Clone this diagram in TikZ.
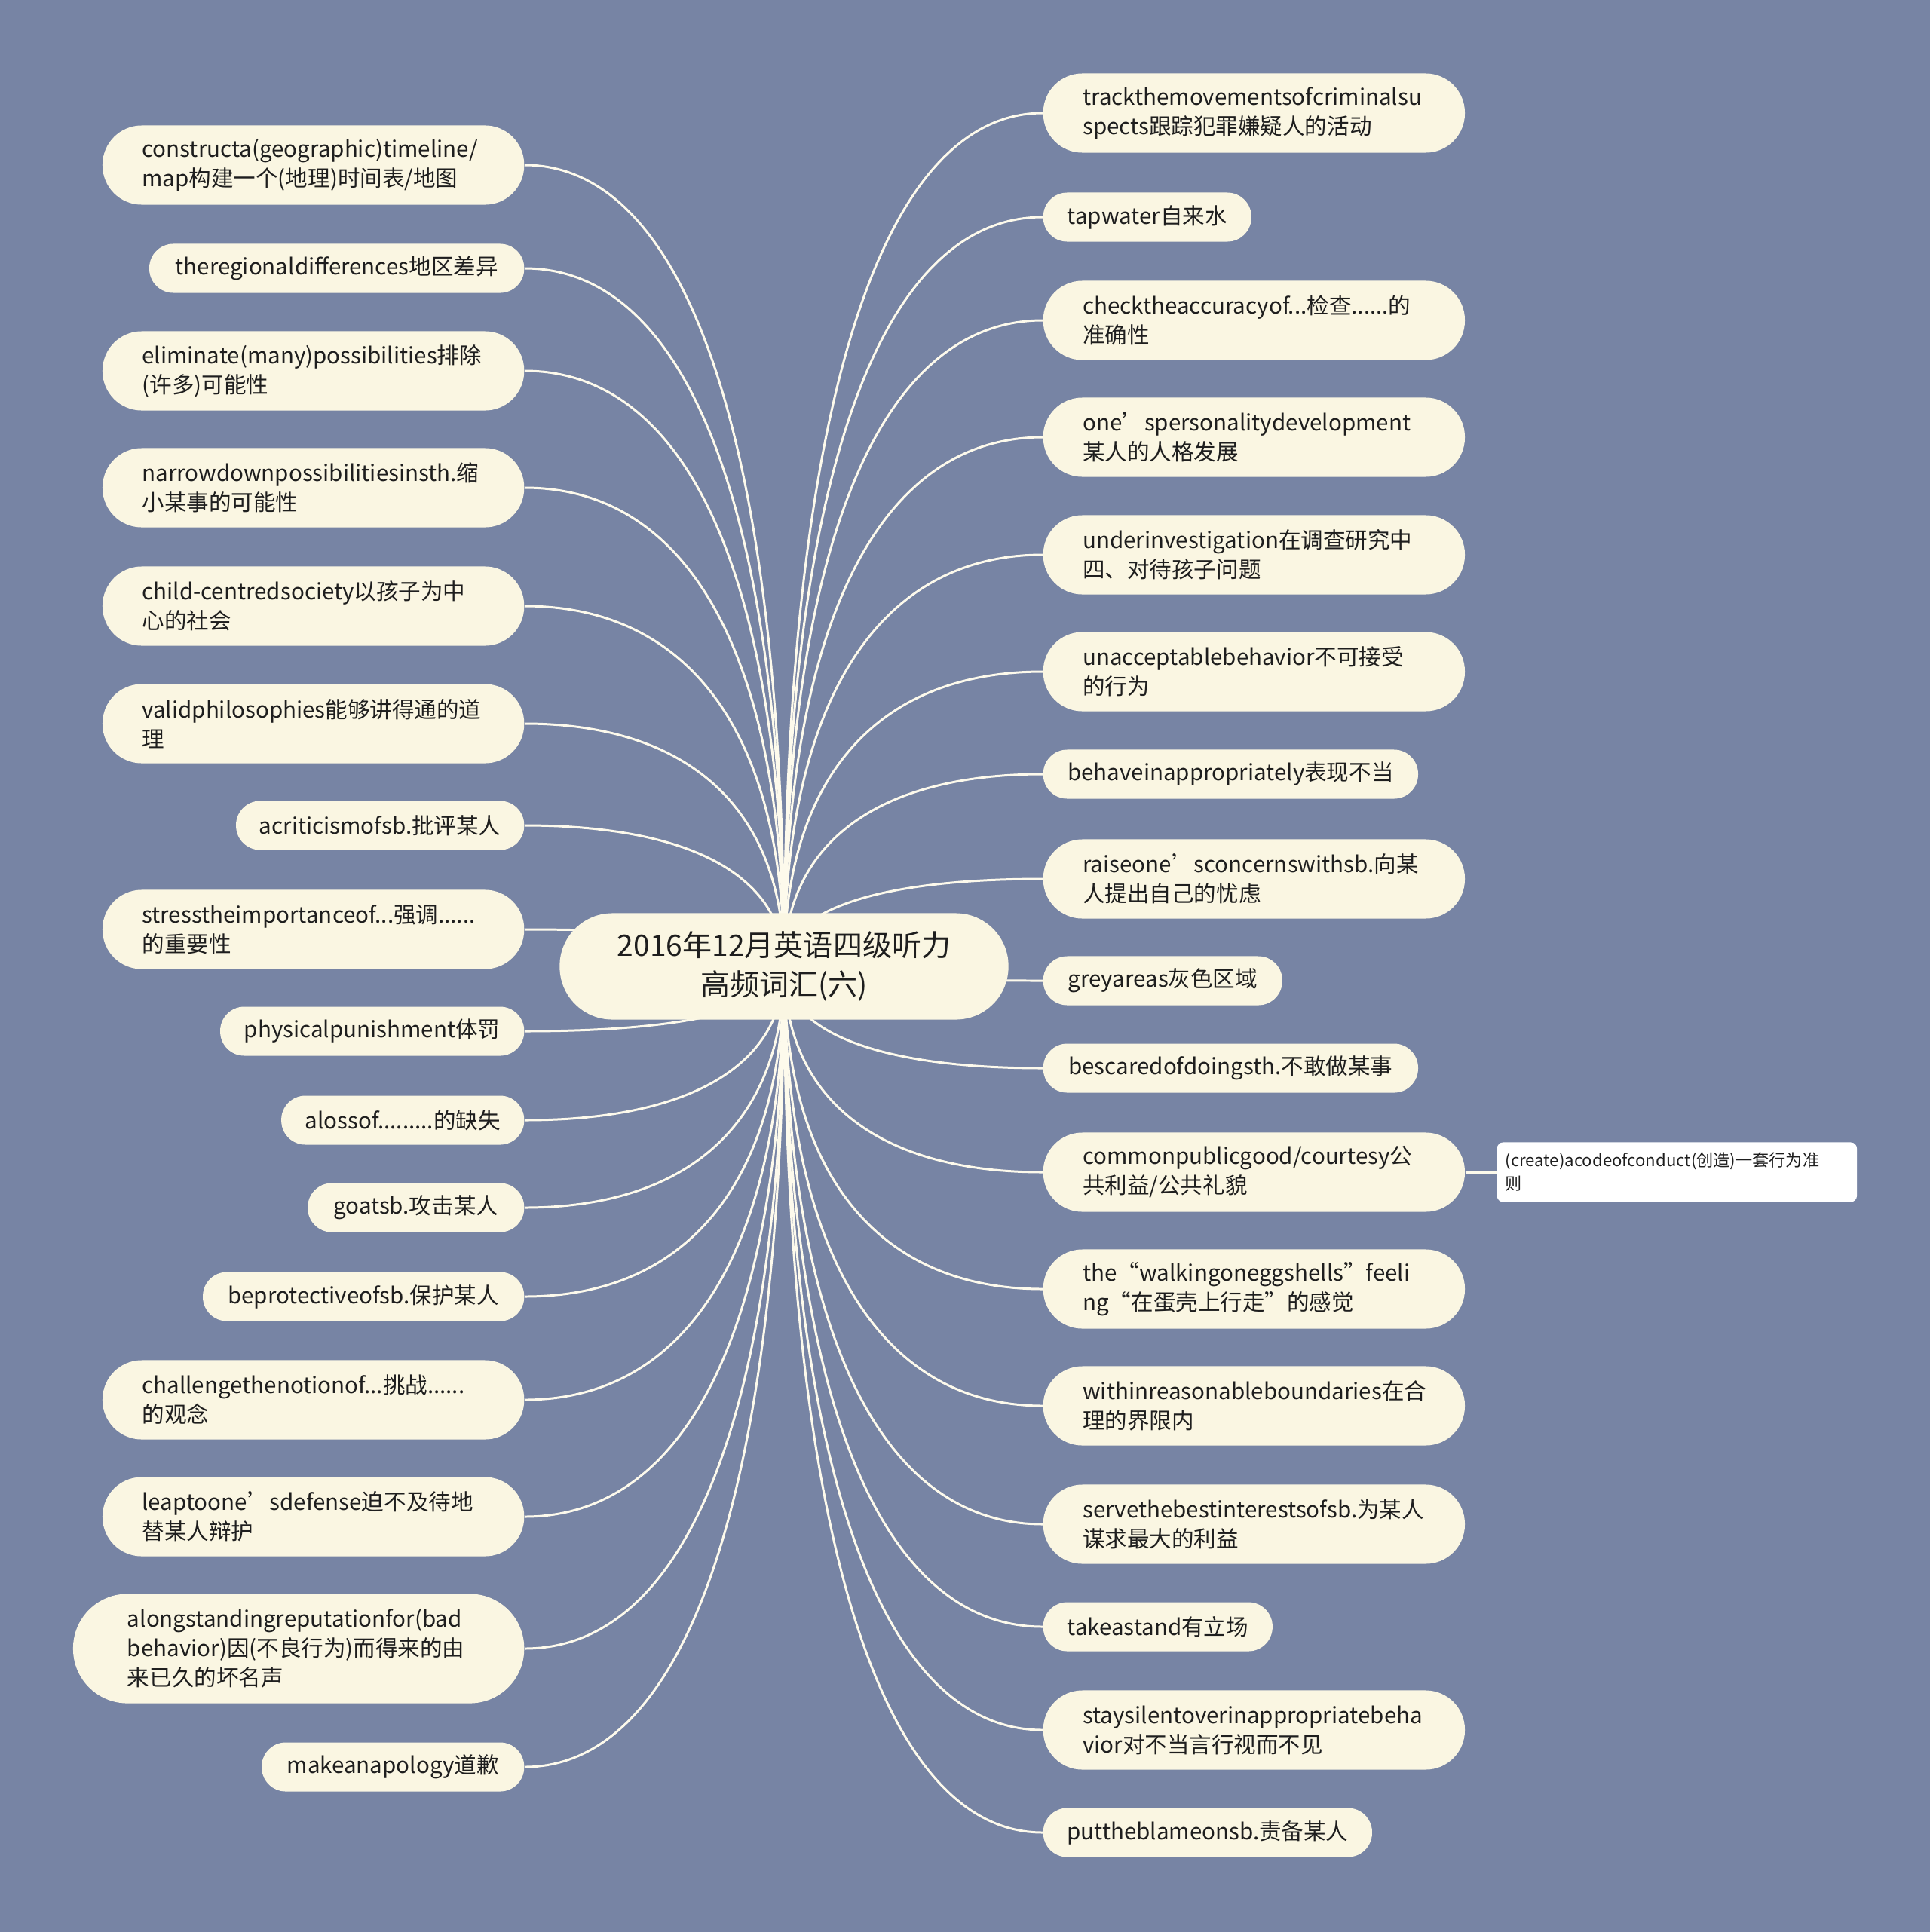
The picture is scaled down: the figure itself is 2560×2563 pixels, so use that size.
\documentclass[tikz,border=0pt]{standalone}
\usepackage{fontspec}
\setmainfont{Noto Sans CJK SC}
\usetikzlibrary{calc}
\definecolor{bgc}{RGB}{119,132,164}
\definecolor{leafc}{RGB}{250,246,226}
\definecolor{linec}{RGB}{253,250,236}
\definecolor{txt}{RGB}{30,30,30}
\newcommand\leaffont{\fontsize{8.4pt}{11.1pt}\selectfont}
\newcommand\rootfont{\fontsize{11.1pt}{14.8pt}\selectfont}
\newcommand\subfont{\fontsize{6.3pt}{8.8pt}\selectfont}
\pgfdeclarelayer{bg}
\pgfdeclarelayer{edges}
\pgfsetlayers{bg,edges,main}
\tikzset{
  leaf/.style={fill=leafc, text=txt, font=\leaffont, inner sep=0pt, rounded corners=0.32cm, minimum height=0.65cm, align=center},
  leafL/.style={leaf, anchor=east},
  leafR/.style={leaf, anchor=west},
  twoline/.style={text width=4.54cm, inner xsep=0.525cm, align=left, minimum height=1.05cm, rounded corners=0.52cm},
  threeline/.style={text width=4.54cm, inner xsep=0.72cm, align=left, minimum height=1.45cm, rounded corners=0.72cm},
  rootbox/.style={fill=leafc, text=txt, font=\rootfont, inner sep=0pt, minimum width=5.95cm, minimum height=1.41cm, rounded corners=0.70cm, align=center},
  subbox/.style={fill=white, text=txt, font=\subfont, anchor=west, inner xsep=0.11cm, inner ysep=0pt, text width=4.55cm, minimum height=0.79cm, rounded corners=0.08cm, align=left},
  edge/.style={draw=linec, line width=0.85pt},
}
\begin{document}
\begin{tikzpicture}[x=0.01cm, y=-0.01cm]
\begin{pgfonlayer}{bg}
\fill[bgc] (0,0) rectangle (2560,2563);
\end{pgfonlayer}
\useasboundingbox (0,0) rectangle (2560,2563);

\node[rootbox] (c) at (1040,1282) {2016年12月英语四级听力\\高频词汇(六)};

% left side
\node[leafL, twoline] (L1) at (696,219) {constructa(geographic)timeline/\\map构建一个(地理)时间表/地图};
\node[leafL, minimum width=4.97cm] (L2) at (696,356) {theregionaldifferences地区差异};
\node[leafL, twoline] (L3) at (696,492) {eliminate(many)possibilities排除\\(许多)可能性};
\node[leafL, twoline] (L4) at (696,647) {narrowdownpossibilitiesinsth.缩\\小某事的可能性};
\node[leafL, twoline] (L5) at (696,804) {child-centredsociety以孩子为中\\心的社会};
\node[leafL, twoline] (L6) at (696,960) {validphilosophies能够讲得通的道\\理};
\node[leafL, minimum width=3.82cm] (L7) at (696,1095) {acriticismofsb.批评某人};
\node[leafL, twoline] (L8) at (696,1233) {stresstheimportanceof...强调......\\的重要性};
\node[leafL, minimum width=4.03cm] (L9) at (696,1368) {physicalpunishment体罚};
\node[leafL, minimum width=3.22cm] (L10) at (696,1486) {alossof.........的缺失};
\node[leafL, minimum width=2.87cm] (L11) at (696,1602) {goatsb.攻击某人};
\node[leafL, minimum width=4.26cm] (L12) at (696,1720) {beprotectiveofsb.保护某人};
\node[leafL, twoline] (L13) at (696,1857) {challengethenotionof...挑战......\\的观念};
\node[leafL, twoline] (L14) at (696,2012) {leaptoone’sdefense迫不及待地\\替某人辩护};
\node[leafL, threeline] (L15) at (696,2187) {alongstandingreputationfor(bad\\behavior)因(不良行为)而得来的由\\来已久的坏名声};
\node[leafL, minimum width=3.48cm] (L16) at (696,2344) {makeanapology道歉};

% right side
\node[leafR, twoline] (R1) at (1383,150) {trackthemovementsofcriminalsu\\spects跟踪犯罪嫌疑人的活动};
\node[leafR, minimum width=2.76cm] (R2) at (1383,288) {tapwater自来水};
\node[leafR, twoline] (R3) at (1383,425) {checktheaccuracyof...检查......的\\准确性};
\node[leafR, twoline] (R4) at (1383,580) {one’spersonalitydevelopment\\某人的人格发展};
\node[leafR, twoline] (R5) at (1383,736) {underinvestigation在调查研究中\\四、对待孩子问题};
\node[leafR, twoline] (R6) at (1383,891) {unacceptablebehavior不可接受\\的行为};
\node[leafR, minimum width=4.97cm] (R7) at (1383,1027) {behaveinappropriately表现不当};
\node[leafR, twoline] (R8) at (1383,1166) {raiseone’sconcernswithsb.向某\\人提出自己的忧虑};
\node[leafR, minimum width=3.17cm] (R9) at (1383,1301) {greyareas灰色区域};
\node[leafR, minimum width=4.97cm] (R10) at (1383,1417) {bescaredofdoingsth.不敢做某事};
\node[leafR, twoline] (R11) at (1383,1555) {commonpublicgood/courtesy公\\共利益/公共礼貌};
\node[leafR, twoline] (R12) at (1383,1710) {the“walkingoneggshells”feeli\\ng“在蛋壳上行走”的感觉};
\node[leafR, twoline] (R13) at (1383,1865) {withinreasonableboundaries在合\\理的界限内};
\node[leafR, twoline] (R14) at (1383,2022) {servethebestinterestsofsb.为某人\\谋求最大的利益};
\node[leafR, minimum width=3.04cm] (R15) at (1383,2158) {takeastand有立场};
\node[leafR, twoline] (R16) at (1383,2295) {staysilentoverinappropriatebeha\\vior对不当言行视而不见};
\node[leafR, minimum width=4.36cm] (R17) at (1383,2431) {puttheblameonsb.责备某人};

\node[subbox] (S1) at (1985,1555) {(create)acodeofconduct(创造)一套行为准\\则};

\begin{pgfonlayer}{edges}
\foreach \n in {L1,L2,L3,L4,L5,L6,L7,L8,L9,L10,L11,L12,L13,L14,L15,L16}
  \draw[edge] (c.center) .. controls ($(c.center)!0.64!(c.center|-\n.east)$) and ($(\n.east)!0.64!(\n.east-|c.center)$) .. (\n.east);
\foreach \n in {R1,R2,R3,R4,R5,R6,R7,R8,R9,R10,R11,R12,R13,R14,R15,R16,R17}
  \draw[edge] (c.center) .. controls ($(c.center)!0.64!(c.center|-\n.west)$) and ($(\n.west)!0.64!(\n.west-|c.center)$) .. (\n.west);
\draw[edge] (R11.east) -- (S1.west);
\end{pgfonlayer}
\end{tikzpicture}
\end{document}
